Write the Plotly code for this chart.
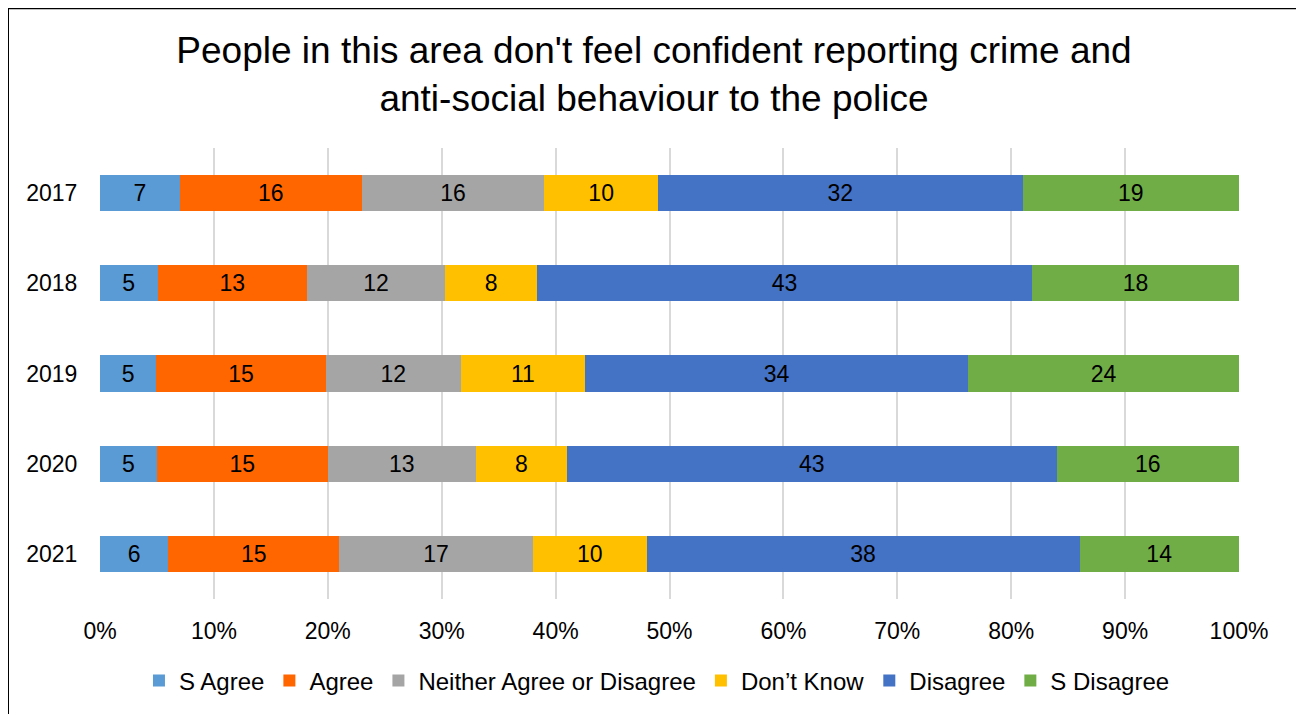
import plotly.graph_objects as go

years = ["2017", "2018", "2019", "2020", "2021"]
series_names = ["S Agree", "Agree", "Neither Agree or Disagree", "Don\u2019t Know", "Disagree", "S Disagree"]
s_agree = [7, 5, 5, 5, 6]
agree = [16, 13, 15, 15, 15]
neither = [16, 12, 12, 13, 17]
dont_know = [10, 8, 11, 8, 10]
disagree = [32, 43, 34, 43, 38]
s_disagree = [19, 18, 24, 16, 14]
colors = ["#5B9BD5", "#FF6600", "#A5A5A5", "#FFC000", "#4472C4", "#70AD47"]
x_ticks = [0, 10, 20, 30, 40, 50, 60, 70, 80, 90, 100]

FONT = "Arial, Liberation Sans, sans-serif"
all_series = [s_agree, agree, neither, dont_know, disagree, s_disagree]

# page has an 8px body margin; figure is sized/offset to compensate
W, H = 1296, 706

fig = go.Figure()
for name, vals, col in zip(series_names, all_series, colors):
    fig.add_trace(go.Bar(
        y=years, x=vals, name=name, orientation="h",
        marker=dict(color=col, line=dict(width=0)),
        text=[str(v) for v in vals], textposition="inside",
        insidetextanchor="middle", textangle=0,
        textfont=dict(family=FONT, size=23, color="black"),
        constraintext="none",
    ))

fig.update_layout(
    barmode="stack", barnorm="percent", bargap=0.6,
    width=W, height=H,
    margin=dict(l=92, r=65, t=140, b=114),
    paper_bgcolor="white", plot_bgcolor="white",
    font=dict(family=FONT, size=23, color="black"),
    title=dict(
        text="People in this area don't feel confident reporting crime and<br>anti-social behaviour to the police",
        x=(654 - 8) / W, xref="container", xanchor="center",
        y=1 - 55 / H, yref="container", yanchor="top",
        font=dict(family=FONT, size=37, color="black"),
    ),
    xaxis=dict(
        range=[0, 100], tickvals=x_ticks, ticktext=[f"{t}%" for t in x_ticks],
        showgrid=True, gridcolor="#D9D9D9", gridwidth=1.5,
        zeroline=False, showline=False,
        ticks="outside", ticklen=11, tickcolor="rgba(0,0,0,0)",
        tickfont=dict(family=FONT, size=23, color="black"),
        fixedrange=True,
    ),
    yaxis=dict(
        type="category", autorange="reversed",
        showgrid=False, zeroline=False, showline=False,
        ticks="outside", ticklen=17, tickcolor="rgba(0,0,0,0)",
        tickfont=dict(family=FONT, size=23, color="black"),
    ),
    legend=dict(
        orientation="h", x=0.489, xanchor="center", y=-0.179, yanchor="middle",
        font=dict(family=FONT, size=24, color="black"),
        traceorder="normal", itemclick=False,
    ),
    showlegend=True,
    shapes=[dict(
        type="rect", xref="paper", yref="paper",
        x0=(8 - 100) / 1139, x1=(1297 - 100) / 1139,
        y0=-0.27, y1=(600 - 8) / 452,
        line=dict(color="black", width=2), fillcolor="rgba(0,0,0,0)", layer="above",
    )],
)

fig.write_html("out.html")
